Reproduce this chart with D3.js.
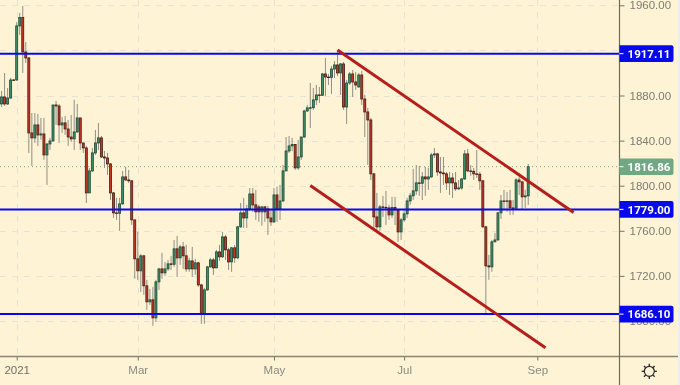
<!DOCTYPE html>
<html>
<head>
<meta charset="utf-8">
<script src="https://cdn.jsdelivr.net/npm/d3@7/dist/d3.min.js"></script>
<style>
  html, body { margin: 0; padding: 0; background: #fef3d4; overflow: hidden; }
  svg { display: block; font-family: Roboto, sans-serif; filter: blur(0.35px); }
</style>
</head>
<body>
<div id="chart"></div>
<script>
// Daily candles, values. First bar is 5 sessions before the 2021 tick.
const firstBar = -5;
const opens = [
  1872.5,1878.7,1872.5,1877.8,1893.8,1893.8,1941.7,1949.2,1918.6,1913.3,
  1846.8,1842.4,1853.9,1845.0,1845.9,1827.3,1837.0,1839.7,1871.6,1870.7,
  1853.9,1855.7,1850.3,1843.2,1841.5,1847.7,1860.1,1837.9,1833.5,1793.6,
  1813.1,1829.1,1837.9,1842.4,1825.5,1824.6,1819.3,1793.6,1775.9,1775.5,
  1783.9,1807.8,1805.1,1804.3,1769.7,1735.1,1724.5,1737.8,1711.2,1697.0,
  1698.8,1682.8,1714.7,1726.2,1722.7,1726.2,1730.7,1730.3,1744.0,1736.0,
  1745.7,1737.8,1726.2,1733.3,1726.2,1731.6,1712.0,1686.3,1707.6,1728.0,
  1734.2,1727.1,1741.3,1736.9,1754.6,1743.1,1732.4,1744.9,1736.0,1763.5,
  1775.9,1771.4,1779.4,1792.7,1783.0,1781.2,1776.8,1781.2,1779.4,1771.4,
  1767.9,1791.8,1779.4,1786.5,1813.1,1830.8,1835.3,1836.6,1815.8,1825.5,
  1843.2,1866.3,1869.0,1869.2,1876.1,1880.5,1880.2,1899.1,1896.4,1896.1,
  1903.5,1907.1,1900.0,1908.0,1869.8,1891.1,1899.1,1892.0,1887.6,1898.2,
  1876.9,1865.4,1858.3,1810.5,1772.3,1763.5,1781.2,1780.8,1780.3,1774.1,
  1780.6,1778.5,1759.0,1769.7,1775.0,1786.5,1791.0,1795.4,1802.5,1802.2,
  1807.8,1806.0,1807.8,1827.3,1828.2,1812.2,1811.3,1810.5,1802.5,1806.9,
  1802.5,1797.2,1798.0,1806.0,1828.2,1813.1,1812.8,1810.5,1810.2,1804.3,
  1763.5,1728.9,1728.0,1750.2,1751.9,1775.9,1786.5,1786.2,1786.6,1780.3,
  1780.0,1805.1,1803.4,1790.1,1791.0
];
const highs = [
  1884.0,1900.0,1886.7,1895.6,1894.7,1945.2,1953.2,1959.4,1927.5,1914.2,
  1864.5,1864.5,1863.6,1860.1,1860.1,1837.9,1842.4,1871.6,1875.2,1872.5,
  1861.0,1861.9,1858.3,1862.8,1876.1,1872.5,1860.1,1837.9,1835.3,1815.8,
  1833.5,1849.5,1855.7,1844.1,1830.8,1829.1,1820.2,1794.5,1789.2,1789.2,
  1813.1,1816.7,1814.0,1805.1,1769.7,1759.0,1739.5,1738.6,1716.5,1708.5,
  1710.3,1716.5,1727.1,1740.4,1732.4,1734.2,1737.8,1751.9,1755.5,1747.5,
  1750.2,1747.5,1736.0,1745.7,1735.1,1732.4,1712.9,1709.4,1728.9,1736.0,
  1736.0,1743.1,1747.5,1759.0,1756.4,1744.9,1745.7,1747.5,1764.4,1784.7,
  1789.2,1783.0,1798.0,1798.0,1796.3,1783.0,1782.1,1782.1,1782.1,1778.5,
  1798.0,1798.9,1800.7,1818.4,1843.2,1844.1,1842.4,1837.0,1840.6,1843.2,
  1867.2,1871.6,1891.1,1886.7,1889.3,1887.6,1900.0,1913.3,1899.1,1906.2,
  1910.6,1920.4,1908.9,1909.7,1893.8,1900.9,1902.6,1900.9,1900.0,1901.8,
  1880.5,1869.0,1860.1,1811.3,1793.6,1783.0,1791.0,1795.4,1783.0,1790.1,
  1790.1,1778.5,1771.4,1778.5,1789.2,1793.6,1814.9,1818.4,1817.5,1812.2,
  1816.7,1815.8,1829.1,1833.5,1829.1,1825.5,1825.5,1812.2,1812.2,1811.3,
  1812.2,1805.1,1806.9,1831.7,1832.6,1818.4,1815.8,1831.7,1812.2,1805.1,
  1764.4,1738.6,1751.9,1758.1,1776.8,1791.8,1796.3,1794.5,1796.3,1787.4,
  1806.9,1807.8,1804.3,1796.3,1819.3
];
const lows = [
  1869.8,1870.7,1871.6,1876.9,1892.9,1892.9,1933.7,1900.0,1908.9,1829.1,
  1817.5,1837.9,1835.3,1840.6,1822.9,1800.7,1831.7,1838.8,1853.9,1837.9,
  1846.8,1845.0,1835.3,1838.8,1831.7,1846.8,1831.7,1829.1,1784.7,1793.6,
  1812.2,1827.3,1831.7,1824.6,1815.8,1809.6,1787.4,1771.4,1769.7,1759.9,
  1783.0,1804.3,1802.5,1765.2,1717.4,1716.5,1705.8,1703.2,1689.9,1694.3,
  1675.7,1679.2,1707.6,1717.4,1720.0,1724.5,1725.3,1728.0,1719.1,1729.8,
  1726.2,1723.6,1723.6,1719.1,1720.9,1710.3,1677.5,1677.5,1706.7,1727.1,
  1720.9,1727.1,1733.3,1736.0,1734.2,1725.3,1723.6,1731.6,1735.1,1762.6,
  1762.6,1762.6,1777.6,1776.8,1769.7,1767.9,1764.4,1767.9,1756.4,1764.4,
  1767.0,1767.9,1769.7,1785.6,1813.1,1829.1,1830.8,1814.0,1814.0,1822.9,
  1842.4,1865.4,1851.2,1867.2,1871.6,1873.4,1879.6,1879.6,1889.3,1881.4,
  1895.6,1897.3,1880.5,1867.2,1854.8,1889.3,1878.7,1884.9,1886.7,1871.6,
  1843.2,1818.4,1805.1,1760.8,1758.1,1759.9,1772.3,1765.2,1769.7,1771.4,
  1765.2,1750.2,1751.9,1767.9,1771.4,1783.0,1787.4,1791.8,1791.0,1787.4,
  1791.0,1796.3,1806.9,1824.6,1808.7,1793.6,1800.7,1796.3,1791.8,1789.2,
  1795.4,1796.3,1796.3,1805.1,1812.2,1808.7,1805.1,1806.9,1796.3,1762.6,
  1687.2,1716.5,1723.6,1750.2,1751.1,1770.6,1778.5,1776.8,1774.1,1774.1,
  1778.5,1791.8,1778.5,1780.3,1783.0
];
const closes = [
  1878.7,1872.5,1877.8,1893.8,1893.4,1941.7,1949.2,1918.6,1913.3,1846.8,
  1842.4,1853.9,1845.0,1845.9,1827.3,1837.0,1839.7,1871.6,1870.7,1853.9,
  1855.7,1850.3,1843.2,1841.5,1847.7,1860.1,1837.9,1833.5,1793.6,1813.1,
  1829.1,1837.9,1842.4,1825.5,1824.6,1819.3,1793.6,1775.9,1775.5,1783.9,
  1807.8,1805.1,1804.3,1769.7,1735.1,1724.5,1737.8,1711.2,1697.0,1698.8,
  1682.8,1714.7,1726.2,1722.7,1726.2,1730.7,1730.3,1744.0,1736.0,1745.7,
  1737.8,1726.2,1733.3,1726.2,1731.6,1712.0,1686.3,1707.6,1728.0,1734.2,
  1727.1,1741.3,1736.9,1754.6,1743.1,1732.4,1744.9,1736.0,1763.5,1775.9,
  1771.4,1779.4,1792.7,1783.0,1776.8,1776.8,1781.2,1776.8,1771.4,1767.9,
  1791.8,1779.4,1786.5,1813.1,1830.8,1835.3,1836.6,1815.8,1825.5,1843.2,
  1866.3,1869.0,1869.2,1876.1,1880.5,1880.2,1899.1,1896.4,1896.1,1903.5,
  1907.1,1900.0,1908.0,1869.8,1891.1,1899.1,1892.0,1889.3,1898.2,1876.9,
  1865.4,1858.3,1810.5,1772.3,1763.5,1781.2,1780.8,1780.3,1774.1,1780.6,
  1778.5,1759.0,1769.7,1775.0,1786.5,1791.0,1795.4,1802.5,1802.2,1807.8,
  1806.0,1807.8,1827.3,1828.2,1812.2,1811.3,1810.5,1802.5,1806.9,1802.5,
  1797.2,1798.0,1806.0,1828.2,1813.1,1812.8,1810.5,1810.2,1804.3,1763.5,
  1728.9,1728.0,1750.2,1751.9,1775.9,1786.5,1786.2,1786.6,1780.3,1780.0,
  1805.1,1803.4,1790.1,1791.0,1816.86
];

const priceTicks = [1960, 1880, 1840, 1800, 1760, 1720, 1680];
const gridPrices = [1960, 1920, 1880, 1840, 1800, 1760, 1720, 1680];
const timeTicks = [0, 40, 85, 128, 172];
const timeLabels = ["2021", "Mar", "May", "Jul", "Sep"];
const levels = [1917.11, 1779.00, 1686.10];
const lastPrice = 1816.86;
// channel lines as [bar, price] pairs
const channelUpper = [[106, 1920.4], [184, 1776.3]];
const channelLower = [[97, 1800.1], [174.7, 1656.2]];

const W = 680, H = 385;
const axisX = 619.5, axisY = 356.5;

const xScale = d3.scaleLinear().domain([0, 172]).range([16.7, 537.3]);
const yScale = d3.scaleLinear().domain([1960, 1680]).range([5.3, 321]);

const bars = closes.map((c, i) => ({
  bar: firstBar + i, open: opens[i], high: highs[i], low: lows[i], close: c
}));

const svg = d3.select("#chart").append("svg").attr("width", W).attr("height", H);
svg.append("rect").attr("width", W).attr("height", H).attr("fill", "#fef3d4");

svg.append("defs").append("clipPath").attr("id", "plot")
  .append("rect").attr("width", axisX).attr("height", axisY);

const plot = svg.append("g").attr("clip-path", "url(#plot)");

// grid
plot.selectAll(".gy").data(gridPrices).enter().append("line")
  .attr("x1", 0).attr("x2", axisX)
  .attr("y1", d => Math.round(yScale(d)) + 0.5).attr("y2", d => Math.round(yScale(d)) + 0.5)
  .attr("stroke", "#e6e3d6").attr("stroke-dasharray", "6,6");
plot.selectAll(".gx").data(timeTicks).enter().append("line")
  .attr("y1", 0).attr("y2", axisY)
  .attr("x1", d => Math.round(xScale(d)) + 0.5).attr("x2", d => Math.round(xScale(d)) + 0.5)
  .attr("stroke", "#e6e3d6").attr("stroke-dasharray", "6,6");

// last price line
plot.append("line")
  .attr("x1", 0).attr("x2", axisX)
  .attr("y1", yScale(lastPrice)).attr("y2", yScale(lastPrice))
  .attr("stroke", "#6fa883").attr("stroke-dasharray", "1,3");

// wicks
plot.selectAll(".wick").data(bars).enter().append("line")
  .attr("x1", d => xScale(d.bar)).attr("x2", d => xScale(d.bar))
  .attr("y1", d => yScale(d.high)).attr("y2", d => yScale(d.low))
  .attr("stroke", "#8f8f88").attr("stroke-width", 1);

// bodies
plot.selectAll(".body").data(bars).enter().append("rect")
  .attr("x", d => xScale(d.bar) - 1)
  .attr("width", 2)
  .attr("y", d => yScale(Math.max(d.open, d.close)))
  .attr("height", d => Math.max(0.6, Math.abs(yScale(d.open) - yScale(d.close))))
  .attr("fill", d => d.close >= d.open ? "#3f8f68" : "#c23a26")
  .attr("stroke", d => d.close >= d.open ? "#1f4a38" : "#4a1a12")
  .attr("stroke-width", 0.8);

// horizontal levels
plot.selectAll(".level").data(levels).enter().append("line")
  .attr("x1", 0).attr("x2", axisX)
  .attr("y1", d => yScale(d)).attr("y2", d => yScale(d))
  .attr("stroke", "#0808ee").attr("stroke-width", 2);

// channel lines
const channelLine = d3.line().x(d => xScale(d[0])).y(d => yScale(d[1]));
plot.selectAll(".channel").data([channelUpper, channelLower]).enter().append("path")
  .attr("d", channelLine)
  .attr("fill", "none")
  .attr("stroke", "#b41f1c")
  .attr("stroke-width", 3);

// axes
const xAxis = d3.axisBottom(xScale).tickValues(timeTicks).tickSize(4).tickPadding(5)
  .tickFormat((d, i) => timeLabels[i]);
const yAxis = d3.axisRight(yScale).tickValues(priceTicks).tickSize(5).tickPadding(5)
  .tickFormat(d3.format(".2f"));

const gx = svg.append("g").attr("transform", `translate(0,${axisY})`).call(xAxis);
const gy = svg.append("g").attr("transform", `translate(${axisX},0)`).call(yAxis);

gx.select(".domain").remove();
gy.select(".domain").remove();
gx.selectAll("line").attr("stroke", "#77735f");
gy.selectAll("line").attr("stroke", "#77735f");
gx.selectAll("text").attr("fill", "#8a8a80").style("font-size", "11.5px");
gx.selectAll("text").filter(d => d === 0).attr("fill", "#6f6f68").style("font-weight", "500");
gy.selectAll("text").attr("fill", "#7c7c74").style("font-size", "11.5px");

svg.append("line").attr("x1", 0).attr("x2", W).attr("y1", axisY).attr("y2", axisY)
  .attr("stroke", "#8a8672").attr("stroke-width", 1.5);
svg.append("line").attr("x1", axisX).attr("x2", axisX).attr("y1", 0).attr("y2", H)
  .attr("stroke", "#6f6b58").attr("stroke-width", 1.2);
// pale strip down the right edge of the window
svg.append("rect").attr("x", 678).attr("width", 2).attr("height", H).attr("fill", "#e9eef2");

// price labels on the axis
const labels = levels.map(v => ({ value: v, fill: "#0808ee" }))
  .concat([{ value: lastPrice, fill: "#6fa883" }]);
const label = svg.selectAll(".plabel").data(labels).enter().append("g")
  .attr("transform", d => `translate(${axisX},${yScale(d.value)})`);
label.append("path")
  .attr("d", "M0,-8.3H52a2,2 0 0 1 2,2V6.3a2,2 0 0 1 -2,2H0Z")
  .attr("fill", d => d.fill);
label.append("line")
  .attr("x1", 0).attr("x2", 4).attr("stroke", "#fff");
label.append("text")
  .attr("x", 29.5).attr("dy", "0.36em").attr("text-anchor", "middle")
  .attr("fill", "#fff").style("font-size", "11.5px").style("font-weight", "bold")
  .text(d => d.value.toFixed(2));

// settings gear
const gear = svg.append("g").attr("transform", "translate(649.3,371.3)")
  .attr("fill", "none").attr("stroke", "#2a2a2a");
gear.append("circle").attr("r", 5).attr("stroke-width", 1.2);
gear.selectAll("line").data(d3.range(8)).enter().append("line")
  .attr("x1", d => 5 * Math.cos(d * Math.PI / 4)).attr("y1", d => 5 * Math.sin(d * Math.PI / 4))
  .attr("x2", d => 7.6 * Math.cos(d * Math.PI / 4)).attr("y2", d => 7.6 * Math.sin(d * Math.PI / 4))
  .attr("stroke-width", 1.3);
</script>
</body>
</html>
